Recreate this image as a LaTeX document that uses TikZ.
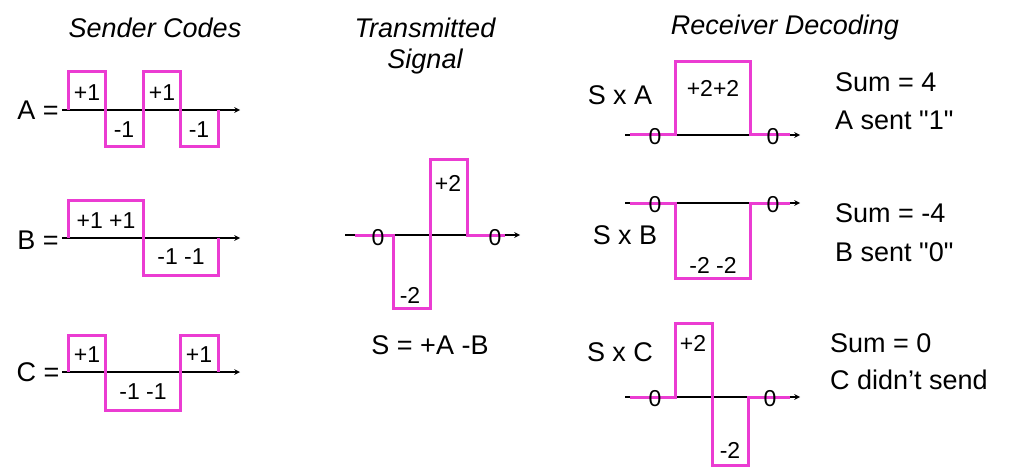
\documentclass[tikz,border=0pt]{standalone}
\usepackage{fontspec}
\setmainfont{Liberation Sans}
\begin{document}
\begin{tikzpicture}[x=1pt,y=-1pt,
  wave/.style={draw={rgb,255:red,235;green,60;blue,210},line width=3pt},
  axis/.style={draw=black,line width=1.5pt,-stealth},
  big/.style={font=\fontsize{27}{30}\selectfont,inner sep=0},
  lab/.style={font=\fontsize{23}{26}\selectfont,inner sep=0},
  ttl/.style={font=\fontsize{27}{30}\selectfont\itshape,inner sep=0}]
\useasboundingbox (0,0) rectangle (1024,473);
% titles
\node[ttl] (t1) at (155,28) {Sender Codes};
\node[ttl] (t2) at (425,28) {Transmitted};
\node[ttl] (t3) at (425,62) {Signal};
\node[ttl] (t4) at (785,28) {Receiver Decoding};
% A
\draw[axis] (62,110) -- (240,110);
\draw[wave] (68,110) -- (68,72) -- (105,72) -- (105,147) -- (143,147) -- (143,72) -- (180,72) -- (180,147) -- (218,147) -- (218,110);
\node[big] (la) at (38,110) {A =};
\node[lab] (a1) at (87,93) {+1};
\node[lab] (a2) at (124,130) {-1};
\node[lab] (a3) at (162,93) {+1};
\node[lab] (a4) at (199,130) {-1};
% B
\draw[axis] (62,238) -- (240,238);
\draw[wave] (68,238) -- (68,200) -- (143,200) -- (143,275) -- (218,275) -- (218,238);
\node[big] (lb) at (38,240) {B =};
\node[lab] (b1) at (106,221) {+1 +1};
\node[lab] (b2) at (181,257) {-1 -1};
% C
\draw[axis] (62,372) -- (240,372);
\draw[wave] (68,372) -- (68,335) -- (105,335) -- (105,410) -- (180,410) -- (180,335) -- (218,335) -- (218,372);
\node[big] (lc) at (38,372) {C =};
\node[lab] (c1) at (87,355) {+1};
\node[lab] (c2) at (143,392) {-1 -1};
\node[lab] (c3) at (199,355) {+1};
% S
\draw[axis] (345,235) -- (520,235);
\draw[wave] (355,235) -- (393,235) -- (393,308) -- (430,308) -- (430,160) -- (467,160) -- (467,235) -- (505,235);
\node[lab] (s0a) at (378,238) {0};
\node[lab] (s0b) at (495,238) {0};
\node[lab] (sm2) at (410,295) {-2};
\node[lab] (sp2) at (448,183) {+2};
\node[big] (seq) at (430,345) {S = +A -B};
% SxA
\draw[axis] (625,135) -- (800,135);
\draw[wave] (630,135) -- (675,135) -- (675,62) -- (750,62) -- (750,135) -- (790,135);
\node[big] (sxa) at (620,95) {S x A};
\node[lab] (xa1) at (713,88) {+2+2};
\node[lab] (xa0a) at (655,137) {0};
\node[lab] (xa0b) at (773,137) {0};
% SxB
\draw[axis] (625,203) -- (800,203);
\draw[wave] (630,203) -- (675,203) -- (675,278) -- (750,278) -- (750,203) -- (790,203);
\node[big] (sxb) at (625,235) {S x B};
\node[lab] (xb1) at (713,265) {-2 -2};
\node[lab] (xb0a) at (655,205) {0};
\node[lab] (xb0b) at (773,205) {0};
% SxC
\draw[axis] (625,397) -- (800,397);
\draw[wave] (630,397) -- (675,397) -- (675,323) -- (712,323) -- (712,465) -- (748,465) -- (748,397) -- (790,397);
\node[big] (sxc) at (620,352) {S x C};
\node[lab] (xc1) at (693,343) {+2};
\node[lab] (xc2) at (730,450) {-2};
\node[lab] (xc0a) at (655,399) {0};
\node[lab] (xc0b) at (770,399) {0};
% results
\node[big,anchor=west] (r1) at (835,82) {Sum = 4};
\node[big,anchor=west] (r2) at (835,120) {A sent \textquotedbl 1\textquotedbl};
\node[big,anchor=west] (r3) at (835,213) {Sum = -4};
\node[big,anchor=west] (r4) at (835,252) {B sent \textquotedbl 0\textquotedbl};
\node[big,anchor=west] (r5) at (830,343) {Sum = 0};
\node[big,anchor=west] (r6) at (830,380) {C didn't send};
\end{tikzpicture}
\end{document}
